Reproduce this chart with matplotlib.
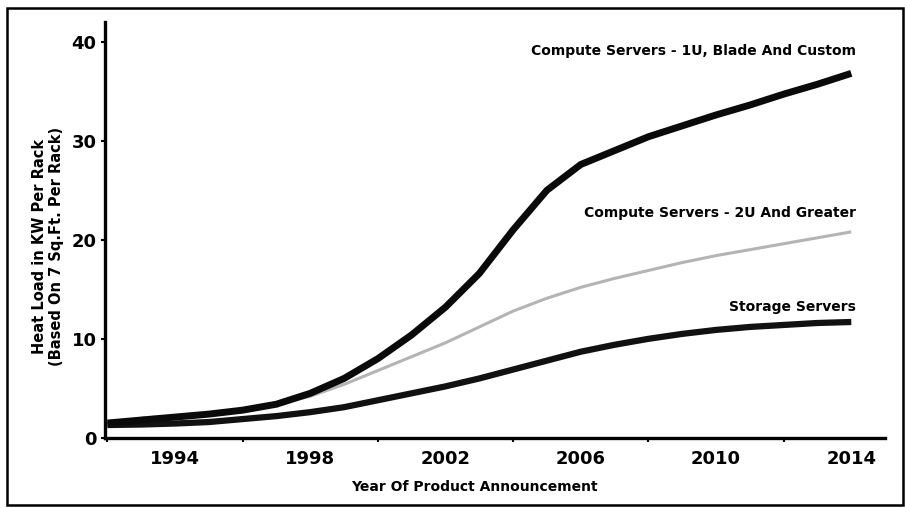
import numpy as np
import matplotlib
matplotlib.use("Agg")
import matplotlib.pyplot as plt
from matplotlib.patches import Rectangle

# values (kW per rack)
years_1u = [1992, 1993, 1994, 1995, 1996, 1997, 1998, 1999, 2000, 2001, 2002, 2003,
            2004, 2005, 2006, 2007, 2008, 2009, 2010, 2011, 2012, 2013, 2014]
load_1u = [1.5, 1.8, 2.1, 2.4, 2.8, 3.4, 4.5, 6.0, 8.0, 10.4, 13.2, 16.6,
           21.0, 25.0, 27.6, 29.0, 30.4, 31.5, 32.6, 33.6, 34.7, 35.7, 36.8]

years_2u = [1993, 1994, 1995, 1996, 1997, 1998, 1999, 2000, 2001, 2002, 2003,
            2004, 2005, 2006, 2007, 2008, 2009, 2010, 2011, 2012, 2013, 2014]
load_2u = [2.0, 2.2, 2.5, 2.9, 3.4, 4.2, 5.4, 6.8, 8.2, 9.6, 11.2,
           12.8, 14.1, 15.2, 16.1, 16.9, 17.7, 18.4, 19.0, 19.6, 20.2, 20.8]

years_st = [1992, 1993, 1994, 1995, 1996, 1997, 1998, 1999, 2000, 2001, 2002, 2003,
            2004, 2005, 2006, 2007, 2008, 2009, 2010, 2011, 2012, 2013, 2014]
load_st = [1.3, 1.35, 1.45, 1.6, 1.9, 2.2, 2.6, 3.1, 3.8, 4.5, 5.2, 6.0,
           6.9, 7.8, 8.7, 9.4, 10.0, 10.5, 10.9, 11.2, 11.4, 11.6, 11.7]

labels = ["Compute Servers - 1U, Blade And Custom",
          "Compute Servers - 2U And Greater",
          "Storage Servers"]

year_ticks = [1994, 1998, 2002, 2006, 2010, 2014]
load_ticks = [0, 10, 20, 30, 40]

fig = plt.figure(figsize=(9.05, 5.08), dpi=100)
ax = fig.add_axes([0.116, 0.138, 0.862, 0.819])

ax.plot(years_st, load_st, color="#111111", lw=4.5, solid_capstyle="butt", zorder=3)
ax.plot(years_2u, load_2u, color="#b4b4b4", lw=2.2, solid_capstyle="butt", zorder=2)
ax.plot(years_1u, load_1u, color="#0a0a0a", lw=5, solid_capstyle="butt", zorder=4)

ax.text(2014.15, 38.3, labels[0], ha="right", va="bottom", fontsize=10, fontweight="bold")
ax.text(2014.15, 22.0, labels[1], ha="right", va="bottom", fontsize=10, fontweight="bold")
ax.text(2014.15, 12.5, labels[2], ha="right", va="bottom", fontsize=10, fontweight="bold")

ax.set_xlim(1991.93, 2015.0)
ax.set_ylim(0, 42)
ax.set_xticks(year_ticks)
ax.set_xticks([1992, 1996, 2000, 2004, 2008, 2012], minor=True)
ax.set_yticks(load_ticks)
ax.tick_params(axis="x", which="major", length=0, labelsize=13, pad=9)
ax.tick_params(axis="x", which="minor", length=3, width=1.5, direction="out")
ax.tick_params(axis="y", length=3, width=1.5, labelsize=13, pad=3)
for t in ax.get_xticklabels() + ax.get_yticklabels():
    t.set_fontweight("bold")

for s in ["top", "right"]:
    ax.spines[s].set_visible(False)
for s in ["left", "bottom"]:
    ax.spines[s].set_linewidth(2.4)

ax.set_xlabel("Year Of Product Announcement", fontsize=10, fontweight="bold")
ax.xaxis.set_label_coords(0.473, -0.102)
ax.set_ylabel("Heat Load in KW Per Rack\n(Based On 7 Sq.Ft. Per Rack)",
              fontsize=10.5, fontweight="bold", linespacing=1.15)
ax.yaxis.set_label_coords(-0.053, 0.46)

# frame around the whole picture
fig.patches.append(Rectangle((0.008, 0.006), 0.99, 0.978, transform=fig.transFigure,
                             fill=False, edgecolor="black", lw=1.8))

fig.savefig("out.png", dpi=100)
